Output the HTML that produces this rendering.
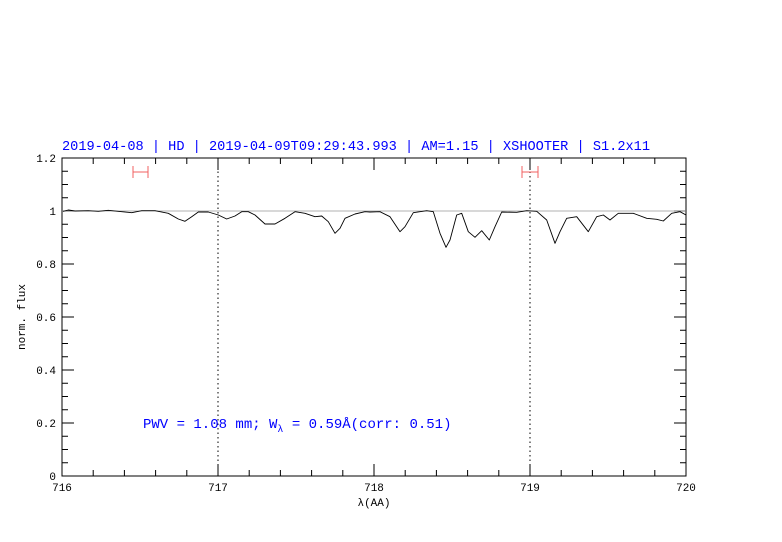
<!DOCTYPE html>
<html><head><meta charset="utf-8"><style>body{margin:0;background:#fff}svg{display:block}</style></head><body>
<svg width="782" height="542" xmlns="http://www.w3.org/2000/svg" font-family="Liberation Mono, DejaVu Sans Mono, monospace">
<text x="62" y="150" fill="#0000ff" font-size="14" textLength="588" lengthAdjust="spacingAndGlyphs">2019-04-08 | HD | 2019-04-09T09:29:43.993 | AM=1.15 | XSHOOTER | S1.2x11</text>
<rect x="62" y="158" width="624" height="318" fill="none" stroke="#000" stroke-width="1"/>
<g stroke="#000" stroke-width="1">
<path d="M93.2,476v-6M124.4,476v-6M155.6,476v-6M186.8,476v-6M249.2,476v-6M280.4,476v-6M311.6,476v-6M342.8,476v-6M405.2,476v-6M436.4,476v-6M467.6,476v-6M498.8,476v-6M561.2,476v-6M592.4,476v-6M623.6,476v-6M654.8,476v-6M218,476v-12M374,476v-12M530,476v-12"/>
<path d="M93.2,158v6M124.4,158v6M155.6,158v6M186.8,158v6M249.2,158v6M280.4,158v6M311.6,158v6M342.8,158v6M405.2,158v6M436.4,158v6M467.6,158v6M498.8,158v6M561.2,158v6M592.4,158v6M623.6,158v6M654.8,158v6M218,158v12M374,158v12M530,158v12"/>
<path d="M62,423h12M62,370h12M62,317h12M62,264h12M62,211h12M686,423h-12M686,370h-12M686,317h-12M686,264h-12M686,211h-12"/>
<path d="M62,462.75h6M62,449.5h6M62,436.25h6M62,409.75h6M62,396.5h6M62,383.25h6M62,356.75h6M62,343.5h6M62,330.25h6M62,303.75h6M62,290.5h6M62,277.25h6M62,250.75h6M62,237.5h6M62,224.25h6M62,197.75h6M62,184.5h6M62,171.25h6"/>
<path d="M686,462.75h-6M686,449.5h-6M686,436.25h-6M686,409.75h-6M686,396.5h-6M686,383.25h-6M686,356.75h-6M686,343.5h-6M686,330.25h-6M686,303.75h-6M686,290.5h-6M686,277.25h-6M686,250.75h-6M686,237.5h-6M686,224.25h-6M686,197.75h-6M686,184.5h-6M686,171.25h-6"/>
</g>
<path d="M218,158V476M530,158V476" stroke="#000" stroke-width="1" stroke-dasharray="1.5,3"/>
<line x1="62" y1="211" x2="686" y2="211" stroke="#999" stroke-width="0.8"/>
<g stroke="#f06060" stroke-width="1" fill="none"><path d="M133,172h15M133,166v12M148,166v12M522,172h16M522,166v12M538,166v12"/></g>
<polyline fill="none" stroke="#000" stroke-width="0.9" stroke-linejoin="round" stroke-linecap="round" points="63.3,211.3 68.3,210 75,211 88.3,210.7 98.3,211.3 108.3,210.3 121.7,211.7 131.7,212.7 141.7,210.7 155,210.7 168.3,213.3 178.3,219 185,221.3 191.7,216.7 198.3,212 208.3,212 218.3,215 226.7,219 235,216 241.7,211.7 248.3,211.7 255,215 265,224 275,224 285,218.3 295,211.7 305,213.3 315,216.7 321.7,216 328.3,221.7 335,233.3 340,228.3 345,218.3 355,214 365,211.7 370,212 380,211.7 390,216.7 400,231.7 405,226.7 413.3,212.7 426.7,210.7 433.3,211.7 440,233.3 446,247.3 450,240 456.7,215 461.7,213.3 468.3,231.7 475,237.3 481.7,230.7 489.3,240 495,226.7 501.7,212 516.7,212.3 526.7,210.7 536.7,211.3 546.7,220 555,243.3 560,231.7 566.7,218.3 576.7,216.7 588.3,231.7 596.7,216.7 603.3,215 610,220 618.3,213.3 633.3,213.3 646.7,218.3 656.7,219.3 663.3,221 671.7,213.3 680,211.7 686,215"/>
<g font-size="11" fill="#000" text-anchor="end">
<text x="56" y="480">0</text><text x="56" y="427">0.2</text><text x="56" y="374">0.4</text><text x="56" y="321">0.6</text><text x="56" y="268">0.8</text><text x="56" y="215">1</text><text x="56" y="162">1.2</text>
</g>
<g font-size="11" fill="#000" text-anchor="middle">
<text x="62" y="491">716</text><text x="218" y="491">717</text><text x="374" y="491">718</text><text x="530" y="491">719</text><text x="686" y="491">720</text>
<text x="374" y="506">λ(AA)</text>
<text transform="translate(25,317) rotate(-90)">norm. flux</text>
</g>
<text x="143" y="428" fill="#0000ff" font-size="14">PWV = 1.08 mm; W<tspan font-size="10" dy="4">λ</tspan><tspan dy="-4"> = 0.59Å(corr: 0.51)</tspan></text>
</svg>
</body></html>
